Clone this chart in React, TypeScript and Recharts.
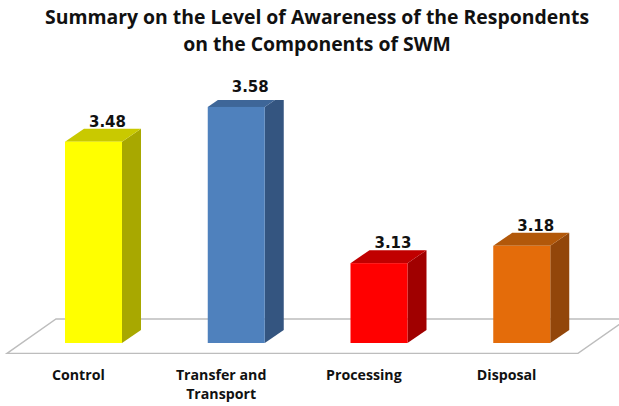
import React from "react";
import { BarChart, Bar, XAxis, YAxis, LabelList, ReferenceArea, Text } from "recharts";

const categories = ["Control", "Transfer and Transport", "Processing", "Disposal"];
const values = [3.48, 3.58, 3.13, 3.18];
const titleLines = ["Summary on the Level of Awareness of the Respondents", "on the Components of SWM"];

const frontColors = ["#FFFF00", "#4F81BD", "#FF0000", "#E46C0A"];
const sideColors = ["#A8A800", "#345580", "#A00000", "#92460A"];
const topColors = ["#C9C900", "#3E6698", "#C00000", "#B2580A"];

const data = categories.map((name, i) => ({ name, value: values[i] }));

const DX = 19;
const DY = 13;

const Box3D = (props: any) => {
  const { x, y, width: w, height: h, index } = props;
  if (w == null || h == null) return null;
  return (
    <g>
      <polygon
        points={`${x + w},${y} ${x + w + DX},${y - DY} ${x + w + DX},${y + h - DY} ${x + w},${y + h}`}
        fill={sideColors[index]}
      />
      <polygon
        points={`${x},${y} ${x + DX},${y - DY} ${x + w + DX},${y - DY} ${x + w},${y}`}
        fill={topColors[index]}
      />
      <rect x={x} y={y} width={w} height={h} fill={frontColors[index]} />
    </g>
  );
};

const Floor = (props: any) => {
  const { x, y, width: w, height: h } = props;
  const pts = `${x - 15},${y + h} ${x + w - 15},${y + h} ${x + w + 34},${y} ${x + 34},${y}`;
  return <polygon points={pts} fill="#FFFFFF" stroke="#BDBDBD" strokeWidth={1.4} />;
};

const ValueLabel = (props: any) => {
  const { x, y, width, value } = props;
  return (
    <text
      x={x + width / 2 + 14}
      y={y - 15}
      textAnchor="middle"
      fontFamily="'DejaVu Sans', Verdana, sans-serif"
      fontWeight="bold"
      fontSize={15}
      fill="#111"
    >
      {Number(value).toFixed(2)}
    </text>
  );
};

const CatTick = (props: any) => {
  const { x, y, payload } = props;
  return (
    <Text
      x={x - 15}
      y={y + 19}
      width={110}
      textAnchor="middle"
      verticalAnchor="start"
      lineHeight={19}
      fontFamily="'Open Sans', Lato, sans-serif"
      fontWeight="bold"
      fontSize={14.2}
      fill="#111"
    >
      {payload.value}
    </Text>
  );
};

export default function App() {
  return (
    <div style={{ position: "absolute", left: 0, top: 0, width: 619, height: 406, background: "#fff" }}>
      <svg
        width={619}
        height={70}
        style={{ position: "absolute", left: 0, top: 0 }}
      >
        {titleLines.map((t, i) => (
          <text
            key={i}
            x={317}
            y={23.5 + i * 27}
            textAnchor="middle"
            fontFamily="'Open Sans', Lato, sans-serif"
            fontWeight="bold"
            fontSize={19.4}
            fill="#111"
          >
            {t}
          </text>
        ))}
      </svg>
      <BarChart
        width={619}
        height={406}
        data={data}
        margin={{ top: 100, right: 26, bottom: 0, left: 22 }}
        style={{ position: "absolute", left: 0, top: 0 }}
      >
        <XAxis dataKey="name" height={63} axisLine={false} tickLine={false} tick={<CatTick />} interval={0} />
        <YAxis hide domain={[2.9, 3.6]} allowDataOverflow />
        <ReferenceArea y1={2.87} y2={2.969} ifOverflow="visible" shape={<Floor />} />
        <Bar dataKey="value" barSize={57} shape={<Box3D />} isAnimationActive={false}>
          <LabelList dataKey="value" content={<ValueLabel />} />
        </Bar>
      </BarChart>
    </div>
  );
}
